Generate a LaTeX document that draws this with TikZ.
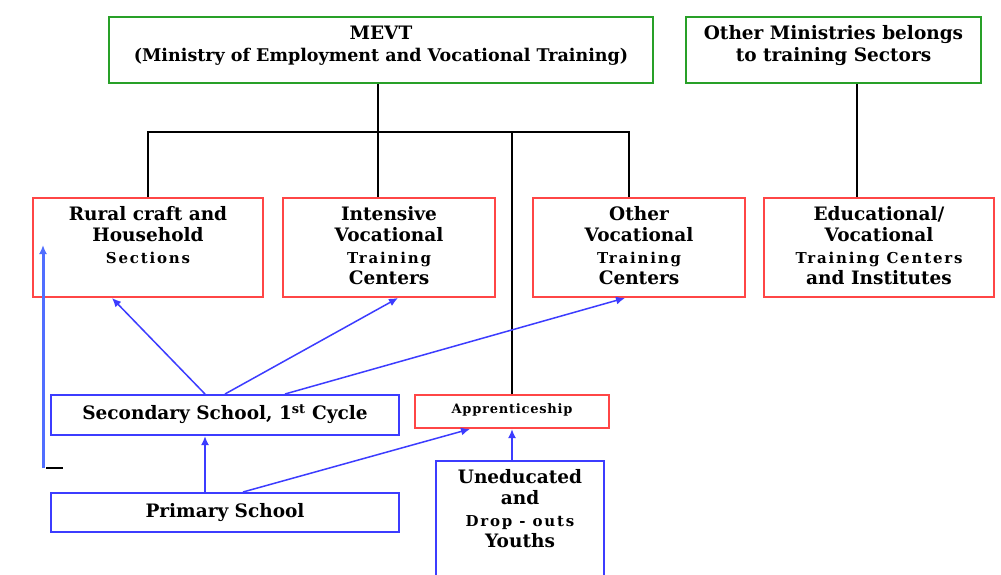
\documentclass[tikz,border=0pt]{standalone}
\usepackage{fontspec}
\setmainfont{DejaVu Serif}
\usetikzlibrary{calc,arrows.meta}
\definecolor{boxgreen}{RGB}{40,160,40}
\definecolor{boxred}{RGB}{255,70,70}
\definecolor{flowblue}{RGB}{60,60,255}
\definecolor{leftblue}{RGB}{80,110,255}
\newcommand{\spaced}[1]{{\fontsize{15}{21.5}\selectfont\addfontfeature{LetterSpace=12}#1}}
\tikzset{
  x=1pt, y=-1pt,
  boxbase/.style={draw, line width=2pt, inner sep=0pt, anchor=north west},
  greenbox/.style={boxbase, draw=boxgreen},
  redbox/.style={boxbase, draw=boxred},
  bluebox/.style={boxbase, draw=flowblue},
  txt/.style={align=center, font=\bfseries\fontsize{18.5}{21.5}\selectfont, inner sep=0pt},
  tree/.style={line width=2pt, black},
  flow/.style={line width=1.5pt, flowblue, -{Latex[length=9pt,width=8pt]}},
  flowthick/.style={line width=2pt, flowblue, -{Latex[length=9pt,width=8pt]}},
}
\begin{document}
\begin{tikzpicture}
\useasboundingbox (0,0) rectangle (1001,574);
\fill[white] (0,0) rectangle (1001,574);

% top level boxes
\node[greenbox, minimum width=544pt, minimum height=66pt] (mevt) at (108,16) {};
\node[txt, font=\bfseries\fontsize{18.5}{22}\selectfont] at ($(mevt.center)+(0,-4)$) {MEVT\\{\fontsize{17.5}{22}\selectfont(Ministry of Employment and Vocational Training)}};
\node[greenbox, minimum width=295pt, minimum height=66pt] (oth) at (685,16) {};
\node[txt, font=\bfseries\fontsize{18.5}{22}\selectfont] at ($(oth.center)+(0,-4)$) {Other Ministries belongs\\to training Sectors};

% training providers
\node[redbox, minimum width=230pt, minimum height=99pt] (rural) at (32,197) {};
\node[txt, anchor=north] at ($(rural.north)+(0,9)$) {Rural craft and\\Household\\\spaced{Sections}};
\node[redbox, minimum width=212pt, minimum height=99pt] (ivtc) at (282,197) {};
\node[txt, anchor=north] at ($(ivtc.north)+(0,9)$) {Intensive\\Vocational\\\spaced{Training}\\Centers};
\node[redbox, minimum width=212pt, minimum height=99pt] (ovtc) at (532,197) {};
\node[txt, anchor=north] at ($(ovtc.north)+(0,9)$) {Other\\Vocational\\\spaced{Training}\\Centers};
\node[redbox, minimum width=230pt, minimum height=99pt] (evtc) at (763,197) {};
\node[txt, anchor=north] at ($(evtc.north)+(0,9)$) {Educational/\\Vocational\\\spaced{Training Centers}\\and Institutes};

% schools and entry paths
\node[bluebox, minimum width=348pt, minimum height=40pt] (sec) at (50,394) {};
\node[txt] at ($(sec.center)+(0,-1)$) {Secondary School, 1\textsuperscript{st} Cycle};
\node[redbox, minimum width=194pt, minimum height=33pt] (appr) at (414,394) {};
\node[txt, font=\bfseries\fontsize{13}{14}\selectfont\addfontfeature{LetterSpace=6}] at ($(appr.center)+(0,-2)$) {Apprenticeship};
\node[bluebox, minimum width=348pt, minimum height=39pt] (prim) at (50,492) {};
\node[txt] at (prim.center) {Primary School};
\node[bluebox, minimum width=168pt, minimum height=118pt] (uned) at (435,460) {};
\node[txt, anchor=north] at ($(uned.north)+(0,9)$) {Uneducated\\and\\\spaced{Drop - outs}\\Youths};

% MEVT tree
\coordinate (bar) at (0,132);
\draw[tree] (mevt.south -| 378,0) -- (378,132 |- bar);
\draw[tree] (rural.north) -- (rural.north |- bar) -- (629,132) -- (ovtc.north -| 629,0);
\draw[tree] (378,132) -- (ivtc.north -| 378,0);
\draw[tree] (appr.north -| 512,0) -- (512,132);
\draw[tree] (oth.south -| 857,0) -- (evtc.north -| 857,0);

% progression arrows
\draw[flow] ($(sec.north west)+(155,0)$) -- ($(rural.south west)+(80,0)$);
\draw[flow] ($(sec.north west)+(175,0)$) -- ($(ivtc.south west)+(116,0)$);
\draw[flow] ($(sec.north west)+(235,0)$) -- ($(ovtc.south west)+(93,0)$);
\draw[flowthick] ($(prim.north west)+(155,0)$) -- ($(sec.south west)+(155,0)$);
\draw[flow] ($(prim.north west)+(193,0)$) -- ($(appr.south west)+(56,0)$);
\draw[flowthick] (uned.north -| 512,0) -- (appr.south -| 512,0);

% side arrow with its tick
\coordinate (sidelow) at (43,468);
\coordinate (sidetop) at (43,245);
\coordinate (tickend) at (63,468);
\draw[line width=3pt, leftblue, -{Latex[length=9pt,width=8pt]}] (sidelow) -- (sidetop);
\draw[line width=2pt, black] ($(sidelow)+(3,0)$) -- (tickend);
\end{tikzpicture}
\end{document}
